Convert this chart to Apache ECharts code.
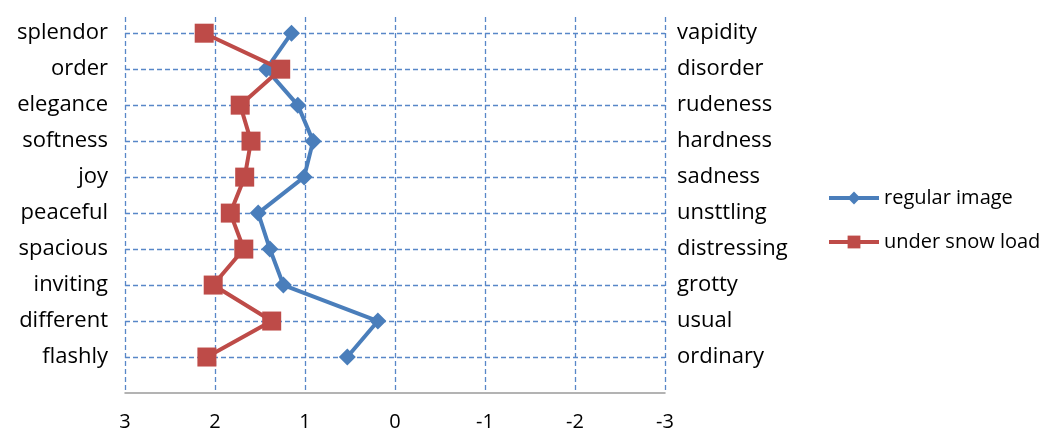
<!DOCTYPE html>
<html>
<head>
<meta charset="utf-8">
<script src="https://cdn.jsdelivr.net/npm/echarts@6/dist/echarts.min.js"></script>
<style>
  html, body { margin: 0; padding: 0; background: #fff; }
  #chart { width: 1048px; height: 432px; }
</style>
</head>
<body>
<div id="chart"></div>
<script>
// Left (positive) adjectives, top to bottom
const leftLabels = ['splendor', 'order', 'elegance', 'softness', 'joy', 'peaceful', 'spacious', 'inviting', 'different', 'flashly'];
// Right (negative) adjectives, top to bottom
const rightLabels = ['vapidity', 'disorder', 'rudeness', 'hardness', 'sadness', 'unsttling', 'distressing', 'grotty', 'usual', 'ordinary'];
// Scores (scale 3 … -3)
const regularImage = [1.15, 1.43, 1.08, 0.91, 1.01, 1.52, 1.39, 1.24, 0.19, 0.53];
const underSnowLoad = [2.12, 1.27, 1.72, 1.60, 1.67, 1.83, 1.68, 2.02, 1.37, 2.09];
const xTicks = [3, 2, 1, 0, -1, -2, -3];

const n = leftLabels.length;
const toPoints = vals => vals.map((v, i) => [v, n - i]);
const labelAt = (arr, value) => {
  if (Math.abs(value - Math.round(value)) > 1e-6) return '';
  const idx = n - Math.round(value);
  return (idx >= 0 && idx < n) ? arr[idx] : '';
};

const GRID_COLOR = 'rgb(88,135,200)';
const font = 'Open Sans';

const chart = echarts.init(document.getElementById('chart'));
chart.setOption({
  animation: false,
  backgroundColor: '#fff',
  grid: { left: 125, right: 383, top: 17, bottom: 39, containLabel: false },
  xAxis: {
    type: 'value', min: -3, max: 3, interval: 1, inverse: true,
    axisLine: { show: true, lineStyle: { color: '#9a9a9a', width: 1.5 } },
    axisTick: { show: false },
    axisLabel: {
      margin: 19, color: '#000', fontFamily: font, fontSize: 20,
      formatter: v => xTicks.includes(v) ? String(v) : ''
    },
    splitLine: { show: true, lineStyle: { color: GRID_COLOR, width: 1.3, type: [5, 3] } }
  },
  yAxis: [
    {
      type: 'value', min: 0, max: 10.45, interval: 1, position: 'left',
      axisLine: { show: false }, axisTick: { show: false },
      axisLabel: {
        margin: 17, color: '#000', fontFamily: font, fontSize: 22,
        showMaxLabel: false, showMinLabel: false,
        formatter: v => labelAt(leftLabels, v)
      },
      splitLine: { show: true, showMinLine: false, showMaxLine: false,
        lineStyle: { color: GRID_COLOR, width: 1.3, type: [5, 3] } }
    },
    {
      type: 'value', min: 0, max: 10.45, interval: 1, position: 'right',
      axisLine: { show: false }, axisTick: { show: false },
      axisLabel: {
        margin: 12, color: '#000', fontFamily: font, fontSize: 22,
        showMaxLabel: false, showMinLabel: false,
        formatter: v => labelAt(rightLabels, v)
      },
      splitLine: { show: false }
    }
  ],
  legend: {
    orient: 'vertical', left: 822, top: 183,
    itemWidth: 50, itemHeight: 16, itemGap: 24,
    lineStyle: { width: 4 },
    textStyle: { color: '#000', fontFamily: font, fontSize: 20, lineHeight: 20 },
    data: ['regular image', 'under snow load']
  },
  series: [
    {
      name: 'regular image', type: 'line', yAxisIndex: 0,
      data: toPoints(regularImage),
      symbol: 'diamond', symbolSize: 17,
      itemStyle: { color: '#4a7ebb' },
      lineStyle: { color: '#4a7ebb', width: 4 },
      z: 2
    },
    {
      name: 'under snow load', type: 'line', yAxisIndex: 0,
      data: toPoints(underSnowLoad),
      symbol: 'rect', symbolSize: 19,
      itemStyle: { color: '#be4b48' },
      lineStyle: { color: '#be4b48', width: 4 },
      z: 3
    }
  ]
});
</script>
</body>
</html>
